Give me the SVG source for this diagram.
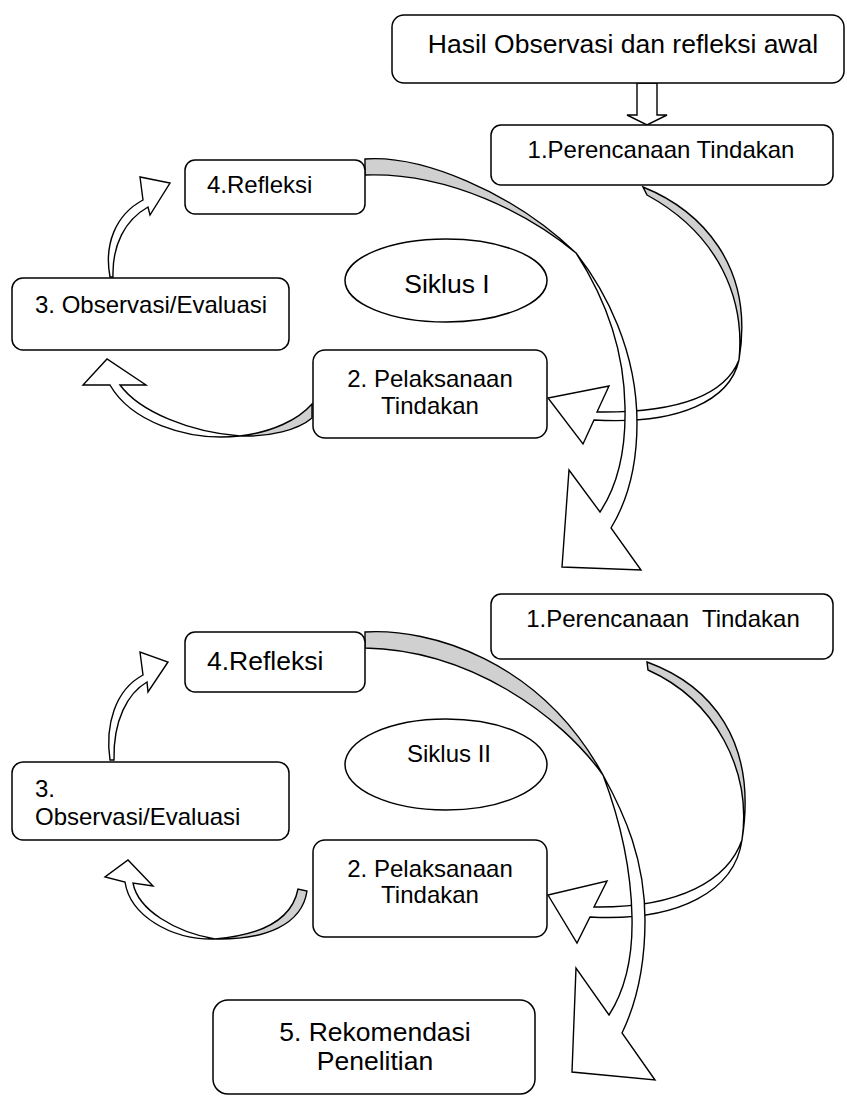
<svg xmlns="http://www.w3.org/2000/svg" width="847" height="1097" viewBox="0 0 847 1097">
<style>
.box{fill:#fff;stroke:#000;stroke-width:1.5}
.ell{fill:#fff;stroke:#000;stroke-width:1.5}
.arw{fill:#fff;stroke:#000;stroke-width:1.4;stroke-linejoin:miter}
.back{fill:#d0d0d0;stroke:#000;stroke-width:1.4}
text{font-family:"Liberation Sans",Arial,sans-serif;fill:#000;font-size:24px}
.big{font-size:26.5px}
.mid{text-anchor:middle}
</style>
<rect width="847" height="1097" fill="#fff"/>
<g id="connectors">
<path id="down" class="arw" d="M637,83 L657,83 L657,115 L667,115 L647,125 L627,115 L637,115 Z"/>
<!-- cycle I -->
<g id="c1-1to2">
<path class="back" d="M643,187 C700,210 755,265 739,360 C745,300 720,235 647,195 Z"/>
<path class="arw" d="M739,360 C725,395 680,413 597,412 L609,386 L548,398 L583,444 L594,420 C680,425 730,400 739,360 Z"/>
</g>
<g id="c1-2to3">
<path class="back" d="M312,404 C298,420 272,432 240,436 C270,437 298,430 312,418 Z"/>
<path class="arw" d="M240,436 C185,442 130,420 110,385 L83,385 L107,359 L146,385 L120,385 C140,412 190,432 240,436 Z"/>
</g>
<g id="c1-3to4">
<path class="arw" d="M110,277 C104,245 115,215 143,200 L140,177 L170,183 L150,215 L148,207 C125,220 112,245 113,277 Z"/>
</g>
<g id="c1-4toNext">
<path class="back" d="M365,159 C420,155 510,190 576,253 C530,215 450,172 365,175 Z"/>
<path class="arw" d="M576,253 C605,290 637,350 637,423 C637,470 625,505 611,528 L641,570 L562,567 L569,470 L600,512 C618,485 626,450 625,407 C624,340 600,290 576,253 Z"/>
</g>
<!-- cycle II -->
<g id="c2-1to2">
<path class="back" d="M647,662 C710,685 758,740 742,840 C752,770 715,700 648,670 Z"/>
<path class="arw" d="M742,840 C728,880 680,908 594,907 L607,881 L548,895 L577,943 L590,917 C680,922 735,890 742,840 Z"/>
</g>
<g id="c2-2to3">
<path class="back" d="M307,891 C302,925 265,940 215,939 C262,935 292,920 298,889 Z"/>
<path class="arw" d="M215,939 C170,940 130,915 125,882 L105,877 L128,860 L153,886 L133,883 C138,910 175,932 215,939 Z"/>
</g>
<g id="c2-3to4">
<path class="arw" d="M110,760 C105,725 115,690 143,675 L140,652 L168,662 L148,692 L147,682 C128,693 113,720 114,760 Z"/>
</g>
<g id="c2-4to5">
<path class="back" d="M365,632 C430,628 540,660 603,775 C560,715 470,650 365,648 Z"/>
<path class="arw" d="M603,775 C625,815 645,860 645,920 C645,965 638,1000 622,1033 L655,1080 L572,1072 L576,968 L609,1015 C625,990 633,960 632,917 C631,865 620,820 603,775 Z"/>
</g>
</g>
<g id="n-hasil"><rect class="box" x="392" y="15" width="452" height="68" rx="12"/><text class="big mid" x="623" y="53">Hasil Observasi dan refleksi awal</text></g>
<g id="n-c1-plan"><rect class="box" x="491" y="125" width="342" height="60" rx="10"/><text class="mid" x="661" y="158">1.Perencanaan Tindakan</text></g>
<g id="n-c1-refl"><rect class="box" x="185" y="160" width="180" height="54" rx="10"/><text x="207" y="193">4.Refleksi</text></g>
<g id="n-c1-siklus"><ellipse class="ell" cx="446" cy="280.5" rx="101" ry="41.5"/><text class="big mid" x="447" y="293">Siklus I</text></g>
<g id="n-c1-obs"><rect class="box" x="12" y="278" width="277" height="72" rx="11"/><text x="35" y="313">3. Observasi/Evaluasi</text></g>
<g id="n-c1-pel"><rect class="box" x="313" y="350" width="234" height="88" rx="12"/><text class="mid" x="430" y="387">2. Pelaksanaan</text><text class="mid" x="430" y="414">Tindakan</text></g>
<g id="n-c2-plan"><rect class="box" x="491" y="594" width="342" height="65" rx="10"/><text class="mid" x="663" y="627" xml:space="preserve">1.Perencanaan  Tindakan</text></g>
<g id="n-c2-refl"><rect class="box" x="185" y="632" width="180" height="60" rx="10"/><text class="big" x="207" y="670">4.Refleksi</text></g>
<g id="n-c2-siklus"><ellipse class="ell" cx="446" cy="764.5" rx="101" ry="45.5"/><text class="mid" x="449" y="762">Siklus II</text></g>
<g id="n-c2-obs"><rect class="box" x="12" y="762" width="277" height="78" rx="11"/><text x="35" y="797">3.</text><text x="35" y="825">Observasi/Evaluasi</text></g>
<g id="n-c2-pel"><rect class="box" x="313" y="840" width="234" height="97" rx="12"/><text class="mid" x="430" y="877">2. Pelaksanaan</text><text class="mid" x="430" y="903">Tindakan</text></g>
<g id="n-rekom"><rect class="box" x="213" y="1000" width="322" height="94" rx="15"/><text class="big mid" x="375" y="1041">5. Rekomendasi</text><text class="big mid" x="375" y="1070">Penelitian</text></g>
</svg>
